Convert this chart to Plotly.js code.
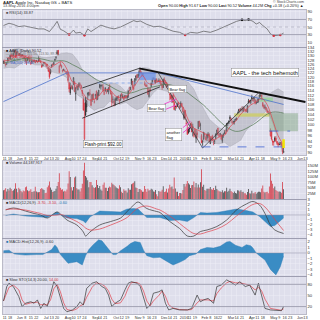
<!DOCTYPE html>
<html><head><meta charset="utf-8">
<script src="https://cdn.plot.ly/plotly-3.0.1.min.js"></script>
<style>html,body{margin:0;padding:0;background:#fff}#chart{width:320px;height:320px}</style>
</head><body><div id="chart"></div>
<script>
// ---------- trading calendar ----------
const months = ['2015-05','2015-06','2015-07','2015-08','2015-09','2015-10','2015-11','2015-12','2016-01','2016-02','2016-03','2016-04','2016-05'];
const monthDays = [
[8,11,12,13,14,15,18,19,20,21,22,26,27,28,29],
[1,2,3,4,5,8,9,10,11,12,15,16,17,18,19,22,23,24,25,26,29,30],
[1,2,6,7,8,9,10,13,14,15,16,17,20,21,22,23,24,27,28,29,30,31],
[3,4,5,6,7,10,11,12,13,14,17,18,19,20,21,24,25,26,27,28,31],
[1,2,3,4,8,9,10,11,14,15,16,17,18,21,22,23,24,25,28,29,30],
[1,2,5,6,7,8,9,12,13,14,15,16,19,20,21,22,23,26,27,28,29,30],
[2,3,4,5,6,9,10,11,12,13,16,17,18,19,20,23,24,25,27,30],
[1,2,3,4,7,8,9,10,11,14,15,16,17,18,21,22,23,24,28,29,30,31],
[4,5,6,7,8,11,12,13,14,15,19,20,21,22,25,26,27,28,29],
[1,2,3,4,5,8,9,10,11,12,16,17,18,19,22,23,24,25,26,29],
[1,2,3,4,7,8,9,10,11,14,15,16,17,18,21,22,23,24,28,29,30,31],
[1,4,5,6,7,8,11,12,13,14,15,18,19,20,21,22,25,26,27,28,29],
[2,3,4,5,6,9,10,11,12,13]];
const holidays = ['2015-05-25','2015-07-03','2015-09-07','2015-11-26','2015-12-25','2016-01-01','2016-01-18','2016-02-15','2016-03-25','2016-05-30'];
const futureDays = ['2016-05-16','2016-05-23','2016-05-31','2016-06-06','2016-06-13'];
const monthNames = ['Jan','Feb','Mar','Apr','May','Jun','Jul','Aug','Sep','Oct','Nov','Dec'];

// ---------- daily OHLC + volume (millions) ----------
const opens = [
126.68,127.39,125.60,126.15,127.41,129.07,128.38,130.69,130.00,130.07,131.60,132.60,130.34,131.86,131.23,
131.20,129.86,130.66,129.58,129.50,128.90,126.70,127.92,129.18,128.19,126.10,127.03,127.72,127.23,127.71,127.49,127.48,127.21,128.86,127.67,125.46,125.57,
126.90,126.43,124.94,125.89,124.48,123.85,121.94,125.03,126.04,125.72,127.74,129.08,130.97,132.85,121.99,126.20,125.32,123.09,123.38,123.15,122.32,122.60,
121.50,117.42,112.95,115.97,114.58,116.53,117.81,112.53,116.04,114.32,116.04,116.43,116.10,114.08,110.43,94.87,111.11,107.09,112.23,112.17,112.03,
110.15,110.23,112.49,108.97,111.75,113.76,110.27,111.79,116.58,115.93,116.25,115.66,112.21,113.67,113.38,113.63,113.25,116.44,113.85,112.83,110.17,
109.07,108.01,109.88,110.63,111.74,110.19,110.00,112.73,110.82,111.29,110.93,111.78,110.80,111.34,114.00,114.33,116.70,118.08,115.40,116.93,118.70,120.99,
119.87,120.79,123.13,121.85,121.11,120.96,116.90,116.37,116.26,115.20,111.38,114.92,115.76,117.64,119.20,119.27,117.33,119.21,118.29,117.99,
118.75,117.34,116.55,115.29,118.98,117.52,117.64,116.04,115.19,112.18,111.94,111.07,112.02,108.91,107.28,107.40,107.27,109.00,107.59,106.96,108.58,107.01,
102.61,105.75,100.56,98.68,98.55,98.97,100.55,100.32,97.96,96.20,98.41,95.10,97.06,98.63,101.52,99.93,96.04,93.79,94.79,
96.47,95.42,95.00,95.86,96.52,93.13,94.29,95.92,93.79,94.19,95.02,96.67,98.84,96.00,96.31,96.40,93.98,96.05,97.20,96.86,
97.65,100.51,100.58,102.37,102.39,100.78,101.31,101.41,102.24,101.91,103.96,104.61,105.52,106.34,105.93,105.25,106.48,105.47,106.00,104.89,108.65,109.72,
108.78,110.42,109.51,110.23,109.95,108.91,108.97,109.34,110.80,111.62,112.11,108.89,107.88,106.64,106.93,105.01,105.00,103.91,96.00,97.61,93.99,
93.97,94.20,95.20,94.00,93.37,93.00,93.33,93.48,92.72,90.00];
const highs = [
127.62,127.56,126.88,127.19,128.95,129.49,130.72,130.88,130.98,131.63,132.97,132.91,132.26,131.95,131.45,
131.39,130.66,130.94,130.58,129.69,129.21,128.08,129.34,130.18,128.33,127.24,127.85,127.82,128.31,127.82,128.06,127.61,129.80,129.20,127.99,126.47,126.12,
126.94,126.69,126.23,126.15,124.64,124.06,123.85,125.76,126.37,127.15,128.57,129.62,132.97,132.92,125.50,127.09,125.74,123.61,123.91,123.50,122.57,122.64,
122.57,117.70,117.44,116.50,116.25,119.99,118.18,115.42,116.40,116.31,117.65,117.44,116.52,114.35,111.90,108.80,111.11,109.89,113.24,113.31,114.53,
111.88,112.34,112.78,110.45,112.56,114.02,113.28,114.21,116.89,116.53,116.54,116.89,114.18,115.37,114.18,114.72,115.50,116.69,114.57,113.46,111.54,
109.62,111.01,111.37,111.52,111.75,110.19,112.28,112.75,112.45,111.52,112.10,112.00,111.75,114.17,115.58,115.50,119.23,118.13,116.54,119.30,120.69,121.22,
121.36,123.49,123.82,122.69,121.81,121.81,118.07,117.42,116.82,115.57,114.24,115.05,117.49,119.75,119.92,119.73,119.35,119.23,118.41,119.41,
118.81,118.11,116.79,119.25,119.86,118.60,117.69,116.94,115.39,112.80,112.85,111.99,112.25,109.52,107.37,107.72,108.85,109.00,107.69,109.43,108.70,107.03,
105.37,105.85,102.37,100.13,99.11,99.06,100.69,101.19,100.48,97.71,98.65,98.19,97.88,101.46,101.53,100.88,96.63,94.52,97.34,
96.71,96.04,96.84,97.33,96.92,95.70,95.94,96.35,94.72,94.50,96.85,98.21,98.89,96.76,96.90,96.50,96.38,96.76,98.02,98.23,
100.77,100.89,101.71,103.75,102.83,101.76,101.58,102.24,102.28,102.91,105.18,106.31,106.47,106.50,107.29,107.29,107.07,106.25,106.19,107.79,110.42,109.90,
110.00,112.19,110.73,110.98,110.42,109.77,110.61,110.61,112.34,112.39,112.30,108.95,108.00,108.09,106.93,106.48,105.65,105.30,98.71,97.88,94.72,
94.08,95.74,95.90,94.07,93.45,93.77,93.57,93.57,92.78,91.67];
const lows = [
126.11,126.11,124.82,125.87,127.16,128.21,128.36,129.64,129.34,129.83,131.40,129.12,130.05,131.10,129.90,
130.05,129.32,129.90,128.91,128.36,126.83,125.62,127.48,128.48,127.11,125.71,126.37,126.88,127.12,126.51,127.04,126.51,127.15,127.50,126.51,124.48,124.86,
125.99,125.77,124.85,123.77,122.54,119.22,121.21,124.32,125.04,125.58,127.35,128.31,130.70,130.32,121.99,125.06,123.90,122.12,122.69,122.27,121.71,120.91,
117.52,113.25,112.10,114.54,114.50,116.53,113.33,109.63,114.54,114.01,115.50,116.01,114.68,111.63,105.65,92.00,103.50,105.05,110.02,111.54,112.00,
107.36,109.13,110.04,108.51,110.32,109.77,109.90,111.76,114.86,114.42,115.44,113.36,112.10,113.66,112.52,113.30,112.37,114.02,112.44,107.31,108.56,
107.31,107.55,109.56,109.56,109.77,108.21,109.49,111.44,110.68,109.63,110.49,110.53,110.11,110.82,113.70,114.10,116.33,114.92,113.99,116.06,118.27,119.45,
119.61,120.70,121.62,120.18,120.62,120.05,116.06,115.51,115.65,112.27,111.00,113.32,115.50,116.76,118.85,117.34,117.12,117.81,117.60,117.75,
116.86,116.08,114.22,115.11,117.81,116.86,115.08,115.51,112.85,109.79,110.07,108.80,108.98,105.81,105.57,106.45,107.20,107.95,106.18,106.86,107.18,104.82,
102.00,102.41,99.87,96.43,96.76,97.34,98.84,97.30,95.74,95.36,95.50,93.42,94.94,98.37,99.21,98.07,93.34,92.39,94.35,
95.40,94.28,94.08,95.19,93.69,93.04,93.93,94.10,92.59,93.01,94.61,96.09,96.09,95.25,95.92,94.55,93.32,95.25,96.58,96.65,
97.42,99.64,100.45,101.37,100.96,100.40,100.27,100.15,101.50,101.78,103.85,104.59,104.96,105.19,105.81,105.21,105.90,104.89,105.06,104.88,108.60,108.88,
108.20,110.27,109.42,109.20,108.12,108.17,108.86,108.83,110.80,111.33,109.73,106.94,106.23,106.06,105.52,104.62,104.51,103.91,95.68,94.25,92.51,
92.40,93.68,93.81,92.68,91.85,92.59,92.58,92.46,89.47,90.00];
const closes = [
127.62,126.32,125.87,126.01,128.95,128.77,130.19,130.07,130.06,131.39,132.54,129.62,132.05,131.78,130.28,
130.54,129.96,130.12,129.36,128.65,127.80,127.42,128.88,128.59,127.17,126.92,127.60,127.30,127.88,126.60,127.61,127.03,128.11,127.50,126.75,124.53,125.43,
126.60,126.44,126.00,125.69,122.57,120.07,123.28,125.66,125.61,126.82,128.51,129.62,132.07,130.75,125.22,125.16,124.50,122.77,123.38,122.99,122.37,121.30,
118.44,114.64,115.40,115.13,115.52,119.72,113.49,115.24,115.15,115.96,117.16,116.50,115.01,112.65,105.76,103.12,103.74,109.69,112.92,113.29,112.76,
107.72,112.34,110.37,109.27,112.31,110.15,112.57,114.21,115.31,116.28,116.41,113.92,113.45,115.21,113.40,114.32,115.00,114.71,112.44,109.06,110.30,
109.58,110.38,110.78,111.31,110.78,109.50,112.12,111.60,111.79,110.21,111.86,111.04,111.73,113.77,113.76,115.50,119.08,115.28,114.55,119.27,120.53,119.50,
121.18,122.57,122.00,120.92,121.06,120.57,116.77,116.11,115.72,112.34,114.18,113.69,117.29,118.78,119.30,117.75,118.88,118.03,117.81,118.30,
117.34,116.28,115.20,119.03,118.28,118.23,115.62,116.17,113.18,112.48,110.49,111.34,108.98,106.03,107.33,107.23,108.61,108.03,106.82,108.74,107.32,105.26,
105.35,102.71,100.70,96.45,96.96,98.53,99.96,97.39,99.52,97.13,96.66,96.79,96.30,101.42,99.44,99.99,93.42,94.09,97.34,
96.43,94.48,96.35,96.60,94.02,95.01,94.99,94.27,93.70,93.99,96.64,98.12,96.26,96.04,96.88,94.69,96.10,96.76,96.91,96.69,
100.53,100.75,101.50,103.01,101.87,101.03,101.12,101.17,102.26,102.52,104.58,105.97,105.80,105.92,105.91,106.72,106.13,105.67,105.19,107.68,109.56,108.99,
109.99,111.12,109.81,110.96,108.54,108.66,109.02,110.44,112.04,112.10,109.85,107.48,106.91,107.13,105.97,105.68,105.08,104.35,97.82,94.83,93.74,
93.64,95.18,94.19,93.24,92.72,92.79,93.42,92.51,90.34,90.52];
const volumes = [
40.1,42.0,48.2,34.2,45.2,38.2,50.9,44.9,36.5,39.7,45.9,70.7,45.8,30.7,50.9,
44.4,35.9,30.9,38.5,35.6,52.7,56.1,39.4,35.6,36.9,43.9,31.5,33.0,35.4,54.7,34.0,30.3,31.0,31.8,44.7,49.6,44.4,
41.0,27.2,28.1,52.5,60.8,78.3,51.6,41.3,31.7,33.6,36.2,46.2,58.9,76.3,115.5,50.8,42.2,44.5,33.6,37.0,33.6,42.9,
69.6,124.1,99.3,52.9,38.1,54.5,97.1,101.2,48.5,43.0,43.2,34.1,48.3,68.5,128.3,162.2,103.6,96.8,84.6,53.2,76.5,
76.8,61.9,53.2,49.9,53.5,85.0,62.9,49.6,58.4,43.3,37.2,64.1,74.3,50.2,50.3,35.8,50.2,56.2,52.6,73.4,66.5,
63.4,58.0,52.1,48.2,46.8,61.7,52.8,33.1,27.5,44.5,37.3,38.2,29.8,48.8,41.8,41.7,66.2,69.9,73.0,80.0,51.8,49.4,
32.2,45.6,44.1,39.1,33.2,33.1,59.1,45.2,32.3,45.8,38.5,41.0,46.7,43.3,34.5,32.6,40.6,21.6,13.1,36.1,
32.9,33.4,41.6,57.8,32.1,34.3,46.6,29.2,46.9,64.3,53.3,56.2,44.8,96.5,47.6,32.8,32.7,13.6,26.7,27.3,25.2,40.9,
67.6,55.8,68.5,81.1,70.8,65.0,49.7,62.4,63.2,79.0,53.1,72.3,52.2,65.8,51.6,75.1,133.4,55.7,64.4,
40.9,37.4,45.9,46.5,46.4,54.0,44.3,42.3,50.1,40.4,60.0,44.7,39.0,35.4,34.3,32.0,40.0,30.0,35.1,35.2,
50.4,33.1,36.9,46.1,35.8,31.6,27.2,33.5,27.4,25.1,40.1,38.3,34.4,40.0,32.0,32.4,25.7,26.1,19.4,31.2,45.6,25.9,
25.5,37.1,26.5,26.4,31.4,23.6,29.4,32.6,33.0,30.4,46.9,60.8,32.4,29.1,31.6,32.3,25.6,56.0,114.6,82.2,68.5,
48.2,56.8,41.0,35.9,32.4,33.5,33.3,28.9,76.3,44.2];

// ---------- overlays in price panel (weekly readings) ----------
const weekDates = ['2015-05-08','2015-05-15','2015-05-22','2015-05-29','2015-06-05','2015-06-12','2015-06-19','2015-06-26','2015-07-02','2015-07-10',
'2015-07-17','2015-07-24','2015-07-31','2015-08-07','2015-08-14','2015-08-21','2015-08-28','2015-09-04','2015-09-11','2015-09-18',
'2015-09-25','2015-10-02','2015-10-09','2015-10-16','2015-10-23','2015-10-30','2015-11-06','2015-11-13','2015-11-20','2015-11-27',
'2015-12-04','2015-12-11','2015-12-18','2015-12-24','2015-12-31','2016-01-08','2016-01-15','2016-01-22','2016-01-29','2016-02-05',
'2016-02-12','2016-02-19','2016-02-26','2016-03-04','2016-03-11','2016-03-18','2016-03-24','2016-04-01','2016-04-08','2016-04-15',
'2016-04-22','2016-04-29','2016-05-06','2016-05-13'];
const bbUpper = [133.0,132.0,133.5,133.7,132.8,132.6,131.6,129.6,129.2,129.5, 129.8,131.4,131.6,131.0,127.6,122.4,121.0,119.5,117.5,117.4,
117.0,117.2,115.8,113.4,116.8,121.0,124.4,124.2,123.0,122.4, 121.0,120.5,121.0,120.2,118.6,117.6,114.6,110.4,106.4,102.3,
100.4,99.0,98.0,101.9,103.6,106.8,107.6,109.6,111.4,112.6, 111.6,113.5,114.8,113.3];
const bbLower = [124.0,124.4,124.1,125.3,127.2,126.6,125.6,125.6,124.8,122.5, 122.0,121.2,119.6,114.2,112.0,110.4,107.4,105.7,106.5,107.0,
109.4,108.8,108.2,109.0,107.2,106.0,106.8,109.8,113.0,114.6, 114.2,113.5,110.2,107.4,105.0,100.2,96.6,95.6,93.6,93.7,
93.2,93.0,93.6,92.1,93.2,94.4,97.4,100.0,101.8,103.8, 105.8,100.9,94.4,89.7];
const emaFast = [128.0,127.8,129.6,130.6,130.0,128.7,127.6,127.2,126.7,124.5, 126.0,127.2,123.6,117.8,116.5,112.6,110.0,110.3,111.6,114.2,
114.3,111.8,110.9,111.3,114.0,117.6,120.6,117.2,116.8,117.9, 117.9,116.4,111.8,108.9,107.1,101.9,98.8,98.0,97.0,95.9,
94.6,95.6,96.2,99.3,101.3,104.3,105.8,107.9,109.2,110.6, 108.0,102.0,96.0,92.6];
const ma50 = [126.5,127.0,127.8,128.3,128.8,129.0,129.0,128.6,128.2,127.5, 127.5,127.7,127.2,125.8,124.5,123.0,121.2,119.4,118.3,117.2,
116.0,114.6,113.5,112.9,113.0,113.7,114.6,115.0,115.6,116.0, 116.6,116.6,116.0,115.2,114.3,112.8,111.0,109.6,107.8,105.6,
103.4,101.7,99.8,98.4,97.6,97.8,98.5,99.6,100.9,102.6, 104.2,105.0,105.0,104.6];
const blueDates = ['2015-05-08','2015-07-31','2015-11-27','2016-05-13'];
const blueVals = [109.3,121.9,121.9,108.1];

// trend lines and levels
const resistDates = ['2015-11-03','2016-06-13'], resistVals = [124.0,109.1];
const chanUpDates = ['2015-08-20','2015-11-03'], chanUpVals = [115.1,124.0];
const chanLoDates = ['2015-08-20','2015-12-01'], chanLoVals = [102.6,115.6];
const downDates = ['2015-11-27','2016-01-28'], downVals = [122.3,91.6];
const upDates = ['2016-01-28','2016-04-13'], upVals = [91.6,113.4];
const flashDates = ['2016-01-27','2016-05-13'], flashVals = [92.0,92.0];
const gapDates = ['2016-04-26','2016-05-23'], gapVals = [97.7,97.7];
const dotDates = ['2015-09-10','2015-12-01'], dotVals = [117.3,117.3];
const pinkADates = ['2015-12-07','2015-12-22'], pinkAVals = [108.3,110.4];
const pinkBDates = ['2015-12-07','2015-12-22'], pinkBVals = [105.9,107.9];
const pinkCDates = ['2015-12-31','2016-01-12'], pinkCVals = [99.0,101.3];
const pinkDDates = ['2015-12-31','2016-01-12'], pinkDVals = [97.1,99.4];
const markDates = ['2016-05-13','2016-05-13'], markVals = [91.6,94.7];
// shaded zones: start, end, low, high
const zoneStart = ['2015-11-03','2016-04-13','2016-03-10','2016-04-26'];
const zoneEnd   = ['2015-11-24','2016-04-29','2016-04-26','2016-06-02'];
const zoneLow   = [118.7,109.3,103.3,97.7];
const zoneHigh  = [121.9,110.9,104.5,104.5];

// notes
const noteDates  = ['2015-09-17','2016-04-20','2015-11-25','2015-12-23','2015-12-17'];
const notePrices = [93.0,121.9,106.5,114.7,96.5];
const noteTexts  = ['Flash-print $92.00','AAPL - the tech behemoth','Bear flag','Bear flag','another<br>flag'];

// ---------- indicators ----------
const rsiDates = ['2015-05-08','2015-05-15','2015-05-21','2015-05-29','2015-06-05','2015-06-11','2015-06-18','2015-06-24','2015-07-01','2015-07-09',
'2015-07-15','2015-07-20','2015-07-23','2015-07-28','2015-08-04','2015-08-10','2015-08-12','2015-08-18','2015-08-24','2015-08-27',
'2015-09-01','2015-09-08','2015-09-15','2015-09-23','2015-10-01','2015-10-09','2015-10-19','2015-10-22','2015-10-27','2015-10-30',
'2015-11-04','2015-11-12','2015-11-20','2015-12-01','2015-12-09','2015-12-17','2015-12-28','2016-01-05','2016-01-12','2016-01-21',
'2016-01-29','2016-02-08','2016-02-17','2016-02-25','2016-03-04','2016-03-14','2016-03-21','2016-03-24','2016-03-30','2016-04-05',
'2016-04-08','2016-04-13','2016-04-18','2016-04-22','2016-04-27','2016-05-02','2016-05-10','2016-05-13'];
const rsiVals = [54,60,57,51,53,50,48,45,45,38, 52,65,44,40,30,42,34,36,28,45, 38,46,55,49,45,50,58,63,67,64,
66,57,51,52,45,39,36,29,36,34, 39,36,42,50,57,65,69,67,70,65, 58,62,54,45,32,27,29,34];

const macdDates = ['2015-05-12','2015-05-21','2015-06-08','2015-06-18','2015-06-26','2015-07-07','2015-07-20','2015-07-24','2015-07-31','2015-08-13',
'2015-08-21','2015-08-25','2015-08-31','2015-09-14','2015-09-28','2015-10-09','2015-10-19','2015-10-27','2015-11-02','2015-11-12',
'2015-11-25','2015-12-01','2015-12-14','2015-12-28','2016-01-07','2016-01-15','2016-01-26','2016-02-03','2016-02-17','2016-03-01',
'2016-03-14','2016-03-28','2016-04-05','2016-04-13','2016-04-20','2016-04-27','2016-05-03','2016-05-13'];
const macdVals = [1.0,1.4,0.8,0.3,0.0,-0.6,0.6,0.0,-1.0,-2.0, -3.4,-4.2,-3.4,-2.0,-1.3,-0.6,0.7,2.0,2.6,1.3,
0.7,0.5,-1.3,-2.7,-4.2,-4.2,-3.3,-3.0,-2.3,-1.0, 1.0,2.2,2.7,2.0,0.3,-2.0,-3.0,-3.7];
const signalVals = [1.1,1.2,1.0,0.6,0.3,-0.1,0.0,0.1,-0.4,-1.3, -2.2,-2.6,-3.0,-2.8,-2.0,-1.2,-0.5,0.7,1.4,1.8,
1.2,1.0,-0.2,-1.7,-2.9,-3.7,-3.8,-3.4,-2.8,-1.8, -0.2,1.3,2.1,2.3,1.6,0.3,-0.9,-3.1];
const macdHistVals = [-0.1,0.2,-0.2,-0.3,-0.3,-0.5,0.6,-0.1,-0.6,-0.7, -1.2,-1.6,-0.4,0.8,0.7,0.6,1.2,1.3,1.2,-0.5,
-0.5,-0.5,-1.1,-1.0,-1.3,-0.5,0.5,0.4,0.5,0.8, 1.2,0.9,0.6,-0.3,-1.3,-2.3,-2.1,-0.6];

const histDates = ['2015-05-08','2015-05-15','2015-05-22','2015-06-08','2015-06-22','2015-06-30','2015-07-13','2015-07-16','2015-07-20','2015-07-23',
'2015-07-29','2015-08-03','2015-08-13','2015-08-20','2015-08-25','2015-08-28','2015-09-03','2015-09-11','2015-09-16','2015-09-24',
'2015-09-30','2015-10-05','2015-10-09','2015-10-19','2015-10-22','2015-10-28','2015-11-04','2015-11-09','2015-11-12','2015-11-20',
'2015-12-01','2015-12-09','2015-12-17','2015-12-28','2016-01-05','2016-01-11','2016-01-20','2016-01-26','2016-02-03','2016-02-11',
'2016-02-22','2016-03-01','2016-03-04','2016-03-11','2016-03-21','2016-03-28','2016-04-01','2016-04-05','2016-04-08','2016-04-13',
'2016-04-20','2016-04-27','2016-05-04','2016-05-10','2016-05-13'];
const histVals = [0.4,0.5,-0.2,-0.4,-0.3,-0.3,0.6,1.45,1.0,-0.3, -1.2,-1.9,-1.6,-2.2,-0.5,0.6,1.5,2.4,2.2,0.8,
-0.3,-0.3,0.4,1.2,1.7,2.1,1.9,0.5,-0.5,-0.9, -0.8,-1.5,-2.2,-1.7,-1.2,-0.5,-0.2,0.6,1.0,0.9,
1.2,2.0,2.1,1.4,1.0,1.5,1.3,0.9,0.0,-0.5, -1.3,-3.0,-4.0,-2.5,-0.6];

const stoDates = ['2015-05-08','2015-05-13','2015-05-15','2015-05-21','2015-05-29','2015-06-03','2015-06-08','2015-06-15','2015-06-18','2015-06-23',
'2015-06-26','2015-07-01','2015-07-07','2015-07-10','2015-07-15','2015-07-20','2015-07-23','2015-07-28','2015-07-31','2015-08-07',
'2015-08-13','2015-08-18','2015-08-21','2015-08-26','2015-09-02','2015-09-09','2015-09-16','2015-09-21','2015-09-24','2015-09-29',
'2015-10-02','2015-10-09','2015-10-15','2015-10-20','2015-10-23','2015-10-30','2015-11-04','2015-11-09','2015-11-12','2015-11-17',
'2015-11-20','2015-11-30','2015-12-03','2015-12-08','2015-12-11','2015-12-17','2015-12-28','2016-01-07','2016-01-13','2016-01-21',
'2016-01-26','2016-01-29','2016-02-04','2016-02-11','2016-02-17','2016-02-23','2016-03-01','2016-03-04','2016-03-11','2016-03-17',
'2016-03-24','2016-03-31','2016-04-07','2016-04-12','2016-04-15','2016-04-20','2016-04-27','2016-05-05','2016-05-11','2016-05-13'];
const stoK = [35,74,83,74,47,20,29,33,29,38, 15,29,20,56,87,74,42,15,6,11, 20,33,24,69,83,87,74,69,51,20,
29,38,65,83,87,83,74,42,15,24, 56,60,65,29,11,15,11,11,15,51, 33,38,42,29,74,78,92,87,78,87,
74,78,51,83,51,15,11,11,9,20];
const stoD = [35,55,72,78,65,38,26,30,31,32, 25,24,25,38,68,80,60,30,12,9, 14,22,26,45,72,84,80,74,62,40,
28,30,48,70,85,85,80,62,35,22, 35,50,62,48,25,16,12,11,12,30, 38,38,38,35,55,70,84,88,84,84,
80,78,65,72,62,40,15,11,10,14];

// ---------- axis tick labels ----------
const priceTicks = [90,92,94,96,98,100,102,104,106,108,110,112,114,116,118,120,122,124,126,128,130,132,134];
const volTicks = [25,50,75,100,125,150];
const volTickText = ['25M','50M','75M','100M','125M','150M'];

// ---------- build ----------
const dates = [];
months.forEach((m,i)=>monthDays[i].forEach(d=>dates.push(m+'-'+String(d).padStart(2,'0'))));
const n = Math.min(dates.length, opens.length, highs.length, lows.length, closes.length, volumes.length);
const isDown = [];
for (let i=0;i<n;i++) isDown.push(i===0 ? closes[i]<opens[i] : closes[i]<closes[i-1]);

function weekKey(d){ const t=new Date(d+'T00:00:00Z'); const dow=(t.getUTCDay()+6)%7; return new Date(t.getTime()-dow*864e5).toISOString().slice(0,10); }
const tickVals=[], tickText=[], tickIsMonth=[];
const allDays = dates.slice(0,n).concat(futureDays);
let lastMonth = allDays[0].slice(0,7);
for (let i=1;i<allDays.length;i++){
  if (weekKey(allDays[i])!==weekKey(allDays[i-1])){
    const d=allDays[i], m=d.slice(0,7);
    let label, isM=false;
    if (m!==lastMonth){ const mi=+d.slice(5,7)-1; label = mi===0 ? d.slice(0,4) : monthNames[mi]; lastMonth=m; isM=true; }
    else label = String(+d.slice(8,10));
    tickVals.push(d); tickText.push(label); tickIsMonth.push(isM);
  }
}
// leave room for the month names: blank the day label just before each month label
for (let i=0;i<tickText.length-1;i++) if (tickIsMonth[i+1] && !tickIsMonth[i]) tickText[i]='';

const RED='#d8303c', BLK='#222';
const traces = [];
traces.push({type:'scatter',mode:'lines',x:weekDates,y:bbUpper,xaxis:'x2',yaxis:'y2',line:{color:'rgba(130,130,140,0.6)',width:0.4},hoverinfo:'skip'});
traces.push({type:'scatter',mode:'lines',x:weekDates,y:bbLower,xaxis:'x2',yaxis:'y2',fill:'tonexty',fillcolor:'rgba(150,150,160,0.38)',line:{color:'rgba(130,130,140,0.6)',width:0.4},hoverinfo:'skip'});
const zoneColors = ['rgba(110,150,235,0.75)','rgba(150,215,150,0.75)','rgba(205,205,100,0.8)','rgba(120,160,120,0.45)'];
zoneStart.forEach((s,i)=>{
  traces.push({type:'scatter',mode:'lines',x:[s,zoneEnd[i],zoneEnd[i],s,s],y:[zoneLow[i],zoneLow[i],zoneHigh[i],zoneHigh[i],zoneLow[i]],
    xaxis:'x2',yaxis:'y2',fill:'toself',fillcolor:zoneColors[i],line:{width:0.3,color:zoneColors[i]},hoverinfo:'skip'});
});
traces.push({type:'scatter',mode:'lines',x:weekDates,y:ma50,xaxis:'x2',yaxis:'y2',line:{color:'#5d7f5d',width:0.8,shape:'spline'},hoverinfo:'skip'});
traces.push({type:'scatter',mode:'lines',x:blueDates,y:blueVals,xaxis:'x2',yaxis:'y2',line:{color:'#4c72cc',width:0.8},hoverinfo:'skip'});
traces.push({type:'scatter',mode:'lines',x:weekDates,y:emaFast,xaxis:'x2',yaxis:'y2',line:{color:'#e0404a',width:0.7,shape:'spline'},hoverinfo:'skip'});
function candle(color){
  const idx=[]; for(let i=0;i<n;i++) if ((color===RED)===isDown[i]) idx.push(i);
  return {type:'candlestick',x:idx.map(i=>dates[i]),open:idx.map(i=>opens[i]),high:idx.map(i=>highs[i]),low:idx.map(i=>lows[i]),close:idx.map(i=>closes[i]),
    xaxis:'x2',yaxis:'y2',whiskerwidth:0,hoverinfo:'skip',
    increasing:{line:{color:color,width:0.7},fillcolor:'rgba(0,0,0,0)'},decreasing:{line:{color:color,width:0.7},fillcolor:color}};
}
traces.push(candle(BLK)); traces.push(candle(RED));
function ln(x,y,color,w,dash){ traces.push({type:'scatter',mode:'lines',x:x,y:y,xaxis:'x2',yaxis:'y2',line:{color:color,width:w,dash:dash||'solid'},hoverinfo:'skip'}); }
ln(resistDates,resistVals,'#111',2.0);
ln(chanUpDates,chanUpVals,'#222',0.8);
ln(chanLoDates,chanLoVals,'#222',0.8);
ln(downDates,downVals,'#333',0.7);
ln(upDates,upVals,'#333',0.7);
ln(flashDates,flashVals,'#3b5fd0',0.8,'dash');
ln(gapDates,gapVals,'#3b5fd0',0.8,'dash');
ln(dotDates,dotVals,'#7fa2e8',0.8,'dot');
ln(pinkADates,pinkAVals,'#ee44cc',0.9);
ln(pinkBDates,pinkBVals,'#ee44cc',0.9);
ln(pinkCDates,pinkCVals,'#ee44cc',0.9);
ln(pinkDDates,pinkDVals,'#ee44cc',0.9);
ln(markDates,markVals,'#f2e200',2.5);

traces.push({type:'scatter',mode:'lines',x:rsiDates,y:rsiVals,xaxis:'x',yaxis:'y',line:{color:'#555',width:0.7},hoverinfo:'skip'});
const rsiLowIdx = rsiVals.map((v,i)=>i).filter(i=>rsiVals[i]<=31);
const rsiHighIdx = rsiVals.map((v,i)=>i).filter(i=>rsiVals[i]>=69);
traces.push({type:'scatter',mode:'markers',x:rsiLowIdx.map(i=>rsiDates[i]),y:rsiLowIdx.map(i=>rsiVals[i]),xaxis:'x',yaxis:'y',marker:{color:RED,size:2.6},hoverinfo:'skip'});
traces.push({type:'scatter',mode:'markers',x:rsiHighIdx.map(i=>rsiDates[i]),y:rsiHighIdx.map(i=>rsiVals[i]),xaxis:'x',yaxis:'y',marker:{color:'#111',size:2.6},hoverinfo:'skip'});

traces.push({type:'bar',x:dates.slice(0,n),y:volumes.slice(0,n),xaxis:'x',yaxis:'y3',marker:{color:isDown.map(d=>d?'#d4404c':'#4a4a4a'),line:{width:0}},hoverinfo:'skip'});

traces.push({type:'scatter',mode:'lines',x:macdDates,y:macdHistVals,xaxis:'x',yaxis:'y4',fill:'tozeroy',fillcolor:'#3a8cc4',line:{color:'#2a78b0',width:0.4},hoverinfo:'skip'});
traces.push({type:'scatter',mode:'lines',x:macdDates,y:macdVals,xaxis:'x',yaxis:'y4',line:{color:'#333',width:0.7,shape:'spline'},hoverinfo:'skip'});
traces.push({type:'scatter',mode:'lines',x:macdDates,y:signalVals,xaxis:'x',yaxis:'y4',line:{color:'#e0404a',width:0.7,shape:'spline'},hoverinfo:'skip'});

traces.push({type:'scatter',mode:'lines',x:histDates,y:histVals,xaxis:'x',yaxis:'y5',fill:'tozeroy',fillcolor:'#3a8cc4',line:{color:'#2a78b0',width:0.4},hoverinfo:'skip'});

traces.push({type:'scatter',mode:'lines',x:stoDates,y:stoD,xaxis:'x',yaxis:'y6',line:{color:'#e0404a',width:0.7},hoverinfo:'skip'});
traces.push({type:'scatter',mode:'lines',x:stoDates,y:stoK,xaxis:'x',yaxis:'y6',line:{color:'#333',width:0.7},hoverinfo:'skip'});

// ---------- layout ----------
const BG='#dfdfec', GRID='#ededf6', LINE='#8c8ca2';
const xBase = {type:'date',range:['2015-05-07 13:00','2016-06-13 12:00'],
  rangebreaks:[{bounds:['sat','mon']},{values:holidays}],
  tickmode:'array',tickvals:tickVals,ticktext:tickText,showgrid:true,gridcolor:GRID,gridwidth:0.5,
  showline:true,linecolor:LINE,linewidth:0.6,ticks:'',tickfont:{size:3.8,color:'#333'},zeroline:false,fixedrange:true,tickangle:0};
const yBase = {side:'right',showgrid:true,gridcolor:GRID,gridwidth:0.5,showline:true,mirror:true,linecolor:LINE,linewidth:0.6,
  ticks:'',tickfont:{size:4.2,color:'#333'},zeroline:false,fixedrange:true};
const P = Y => (314-Y)/304;
const PX = X => (X-3)/303;

const ann = [];
function label(X,Y,text,color,size,anchor){ ann.push({xref:'paper',yref:'paper',x:PX(X),y:P(Y),text:text,showarrow:false,xanchor:anchor||'left',yanchor:'middle',font:{size:size||4,color:color||'#333'}}); }
label(1,2.5,'<b>AAPL</b> Apple Inc. Nasdaq GS + BATS','#222',4.2);
label(1,6.5,'13-May-2016 4:00pm','#444',3.8);
label(306,2,'© StockCharts.com','#444',3.6,'right');
label(306,6,'<b>Open</b> 90.00 <b>High</b> 91.67 <b>Low</b> 90.00 <b>Last</b> 90.52 <b>Volume</b> 44.2M <b>Chg</b> +0.18 (+0.20%) ▲','#222',3.8,'right');
label(4,12.5,'<span style="color:#555">■</span> RSI(14) 33.87','#333',3.8);
label(4,50.5,'■ AAPL (Daily) 90.52','#222',3.8);
label(4,54,'— BB(20,2.0) 101.50, 113.30, 89.70','#777',3.3);
label(4,57,'— EMA(10) 92.60','#d03040',3.3);
label(4,60,'— MA(50) 104.60','#4d6f4d',3.3);
label(4,63,'— MA(200) 108.10','#3c62c0',3.3);
label(4,163.5,'■ Volume 44,187,917','#333',3.8);
label(4,202.5,'■ MACD(12,26,9) <span style="color:#d03040">-3.70, -3.10</span>, <span style="color:#2a78b0">-0.60</span>','#333',3.8);
label(4,241.5,'<span style="color:#2a78b0">■</span> MACD-Hist(12,26,9) -0.60','#333',3.8);
label(4,279.5,'■ Slow STO(14,3) 20.00, <span style="color:#d03040">14.00</span>','#333',3.8);

const noteSizes = [4.6,5.6,3.9,3.9,4.0];
noteTexts.forEach((t,i)=>{
  ann.push({xref:'x2',yref:'y2',x:noteDates[i],y:Math.log10(notePrices[i]),text:t,showarrow:false,
    font:{size:noteSizes[i],color:'#111'},bgcolor:'#ffffff',bordercolor:'#888',borderwidth:0.5,borderpad:1,align:'left'});
});

const shapes = [
  {type:'line',xref:'x domain',yref:'y',x0:0,x1:1,y0:70,y1:70,line:{color:'#9090a4',width:0.8}},
  {type:'line',xref:'x domain',yref:'y',x0:0,x1:1,y0:30,y1:30,line:{color:'#9090a4',width:0.8}},
  {type:'line',xref:'x domain',yref:'y',x0:0,x1:1,y0:50,y1:50,line:{color:'#a0a0b4',width:0.6,dash:'dot'}},
  {type:'line',xref:'x domain',yref:'y6',x0:0,x1:1,y0:80,y1:80,line:{color:'#9090a4',width:0.8}},
  {type:'line',xref:'x domain',yref:'y6',x0:0,x1:1,y0:20,y1:20,line:{color:'#9090a4',width:0.8}},
  {type:'line',xref:'x domain',yref:'y4',x0:0,x1:1,y0:0,y1:0,line:{color:'#8a8aa0',width:0.5}},
  {type:'line',xref:'x domain',yref:'y5',x0:0,x1:1,y0:0,y1:0,line:{color:'#8a8aa0',width:0.5}}
];

const layout = {
  width:320,height:320,margin:{l:3,r:14,t:10,b:6},paper_bgcolor:'#ffffff',plot_bgcolor:BG,showlegend:false,
  font:{family:'Liberation Sans, Arial, sans-serif',size:4.2,color:'#333'},
  xaxis:Object.assign({},xBase,{anchor:'y6',mirror:'all',domain:[0,1],rangeslider:{visible:false}}),
  xaxis2:Object.assign({},xBase,{anchor:'y2',mirror:true,domain:[0,1],rangeslider:{visible:false}}),
  yaxis:Object.assign({},yBase,{domain:[0.878,1],range:[-3,95],tickmode:'array',tickvals:[10,30,50,70,90],anchor:'x'}),
  yaxis2:Object.assign({},yBase,{domain:[0.523,0.875],type:'log',range:[Math.log10(89.2),Math.log10(134)],tickmode:'array',tickvals:priceTicks,anchor:'x2'}),
  yaxis3:Object.assign({},yBase,{domain:[0.378,0.503],range:[0,170],tickmode:'array',tickvals:volTicks,ticktext:volTickText,anchor:'x'}),
  yaxis4:Object.assign({},yBase,{domain:[0.25,0.375],range:[-4.6,3.0],dtick:1,anchor:'x'}),
  yaxis5:Object.assign({},yBase,{domain:[0.125,0.247],range:[-4.2,2.55],dtick:1,anchor:'x'}),
  yaxis6:Object.assign({},yBase,{domain:[0,0.122],range:[0,100],tickmode:'array',tickvals:[20,50,80],anchor:'x'}),
  bargap:0.25,annotations:ann,shapes:shapes
};
Plotly.newPlot('chart',traces,layout,{staticPlot:true,displayModeBar:false});
</script></body></html>
